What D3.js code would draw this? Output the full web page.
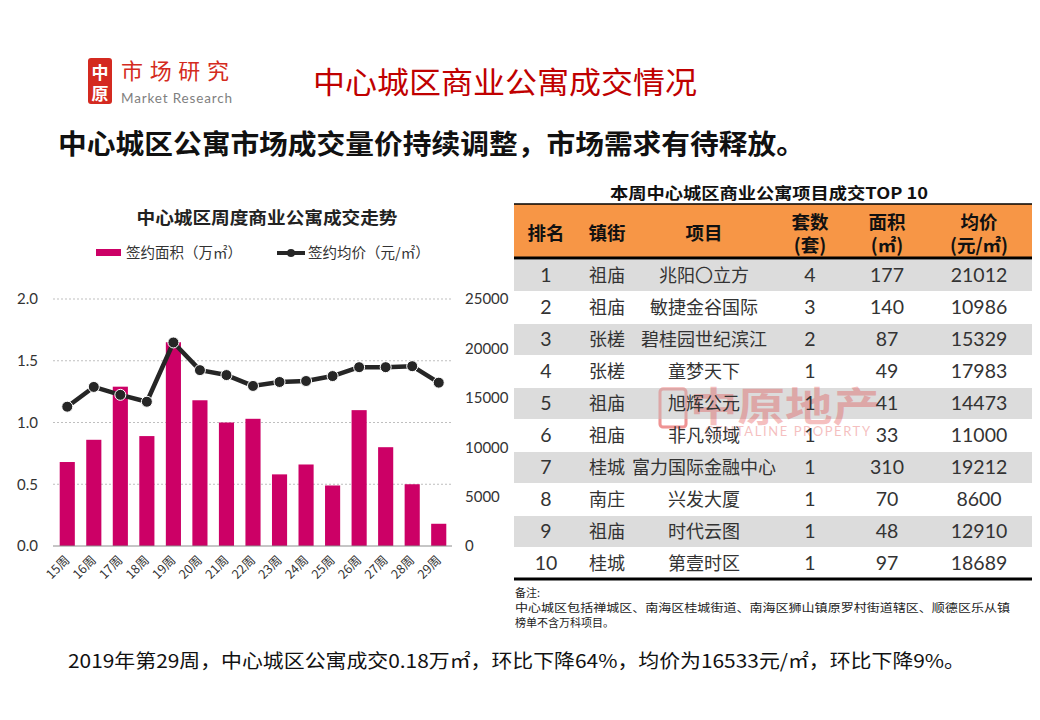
<!DOCTYPE html>
<html><head><meta charset="utf-8">
<script src="https://cdn.jsdelivr.net/npm/d3@7/dist/d3.min.js"></script>
<style>
html,body{margin:0;padding:0;background:#fff;}
svg{display:block;}
text{font-family:"Lato","Noto Sans CJK SC",sans-serif;}
.cjk{font-family:"Noto Sans CJK SC","Lato",sans-serif;}
</style></head>
<body>
<svg id="c" width="1040" height="720"></svg>
<script>
// ---- data ----
const weeks = ["15周","16周","17周","18周","19周","20周","21周","22周","23周","24周","25周","26周","27周","28周","29周"];
const areaValues = [0.68,0.86,1.29,0.89,1.65,1.18,1.00,1.03,0.58,0.66,0.49,1.10,0.80,0.50,0.18];
const priceValues = [14100,16100,15300,14600,20600,17800,17300,16200,16600,16700,17200,18100,18100,18200,16533];
const leftTicks = [0,0.5,1.0,1.5,2.0];
const rightTicks = [0,5000,10000,15000,20000,25000];

const tableHeaders = [["排名"],["镇街"],["项目"],["套数","(套)"],["面积","(㎡)"],["均价","(元/㎡)"]];
const ranks = ["1","2","3","4","5","6","7","8","9","10"];
const towns = ["祖庙","祖庙","张槎","张槎","祖庙","祖庙","桂城","南庄","祖庙","桂城"];
const projects = ["兆阳〇立方","敏捷金谷国际","碧桂园世纪滨江","童梦天下","旭辉公元","非凡领域","富力国际金融中心","兴发大厦","时代云图","第壹时区"];
const units = [4,3,2,1,1,1,1,1,1,1];
const areas = [177,140,87,49,41,33,310,70,48,97];
const prices = [21012,10986,15329,17983,14473,11000,19212,8600,12910,18689];

const svg = d3.select("#c");
const RED = "#C00000", BAR = "#CC0066", LINE = "#262626";

// ---- header ----
svg.append("rect").attr("x",88).attr("y",58).attr("width",24).attr("height",46).attr("rx",3).attr("fill","#D42A20");
svg.append("text").attr("class","cjk").attr("x",100).attr("y",79).attr("text-anchor","middle").attr("font-size",17).attr("font-weight",700).attr("fill","#fff").text("中");
svg.append("text").attr("class","cjk").attr("x",100).attr("y",100).attr("text-anchor","middle").attr("font-size",17).attr("font-weight",700).attr("fill","#fff").text("原");
svg.append("text").attr("class","cjk").attr("x",121).attr("y",79).attr("font-size",22).attr("fill","#D42A20").attr("textLength",108).attr("lengthAdjust","spacing").text("市场研究");
svg.append("text").attr("x",121).attr("y",103).attr("font-size",13.5).attr("fill","#7f7f7f").attr("textLength",111).text("Market Research");

svg.append("text").attr("class","cjk").attr("x",505).attr("y",93).attr("text-anchor","middle").attr("font-size",30).attr("fill",RED)
  .attr("textLength",384).attr("lengthAdjust","spacingAndGlyphs").text("中心城区商业公寓成交情况");
svg.append("text").attr("class","cjk").attr("x",58).attr("y",154).attr("font-size",27).attr("font-weight",700).attr("fill","#111")
  .attr("textLength",747).attr("lengthAdjust","spacingAndGlyphs").text("中心城区公寓市场成交量价持续调整，市场需求有待释放。");

// ---- chart ----
const x = d3.scaleBand().domain(weeks).range([54,452]).paddingInner(0.43).paddingOuter(0.215);
const yL = d3.scaleLinear().domain([0,2]).range([546,299]);
const yR = d3.scaleLinear().domain([0,25000]).range([546,299]);

svg.append("text").attr("class","cjk").attr("x",267).attr("y",224).attr("text-anchor","middle").attr("font-size",17).attr("font-weight",700).attr("fill","#222")
  .attr("textLength",261).attr("lengthAdjust","spacingAndGlyphs").text("中心城区周度商业公寓成交走势");

// legend
svg.append("rect").attr("x",96).attr("y",249).attr("width",25).attr("height",7).attr("fill",BAR);
svg.append("text").attr("class","cjk").attr("x",126).attr("y",258).attr("font-size",14.5).attr("fill","#333").text("签约面积（万㎡）");
svg.append("line").attr("x1",277).attr("x2",305).attr("y1",253).attr("y2",253).attr("stroke",LINE).attr("stroke-width",4);
svg.append("circle").attr("cx",291).attr("cy",253).attr("r",4).attr("fill",LINE);
svg.append("text").attr("class","cjk").attr("x",308).attr("y",258).attr("font-size",14.5).attr("fill","#333").text("签约均价（元/㎡）");

// grid
const grid = svg.append("g");
leftTicks.filter(d=>d>0).forEach(t=>{
  grid.append("line").attr("x1",53).attr("x2",452).attr("y1",yL(t)).attr("y2",yL(t)).attr("stroke","#bfbfbf").attr("stroke-dasharray","2,2").attr("stroke-width",1);
});

// axes
const axL = svg.append("g").attr("transform","translate(53,0)").call(d3.axisLeft(yL).tickValues(leftTicks).tickFormat(d3.format(".1f")).tickSize(0).tickPadding(15));
axL.select(".domain").remove();
axL.selectAll("text").attr("font-size",15).attr("fill","#333").attr("font-family","Lato");
const axR = svg.append("g").attr("transform","translate(452,0)").call(d3.axisRight(yR).tickValues(rightTicks).tickFormat(d3.format("d")).tickSize(0).tickPadding(13));
axR.select(".domain").remove();
axR.selectAll("text").attr("font-size",15).attr("fill","#333").attr("font-family","Lato");

// bars
svg.append("g").selectAll("rect").data(areaValues).join("rect")
  .attr("x",(d,i)=>x(weeks[i])).attr("width",x.bandwidth())
  .attr("y",d=>yL(d)).attr("height",d=>yL(0)-yL(d)).attr("fill",BAR);

// baseline + category labels
const axB = svg.append("g").attr("transform","translate(0,546)").call(d3.axisBottom(x).tickSize(0).tickPadding(0));
axB.select(".domain").attr("stroke","#8c8c8c").attr("d","M53,0H452");
axB.selectAll("text").attr("class","cjk").attr("font-size",12.5).attr("fill","#333")
  .attr("text-anchor","end").attr("dy",0).attr("y",0)
  .attr("transform","translate(3,15) rotate(-45)");

// line
const line = d3.line().x((d,i)=>x(weeks[i])+x.bandwidth()/2).y(d=>yR(d));
svg.append("path").datum(priceValues).attr("d",line).attr("fill","none").attr("stroke",LINE).attr("stroke-width",4.5).attr("stroke-linejoin","round");
svg.append("g").selectAll("circle").data(priceValues).join("circle")
  .attr("cx",(d,i)=>x(weeks[i])+x.bandwidth()/2).attr("cy",d=>yR(d)).attr("r",5.5)
  .attr("fill",LINE).attr("stroke","#fff").attr("stroke-width",1);

// ---- table ----
svg.append("text").attr("class","cjk").attr("x",769).attr("y",199).attr("text-anchor","middle").attr("font-size",16).attr("font-weight",700).attr("fill","#111")
  .attr("textLength",318).attr("lengthAdjust","spacingAndGlyphs").text("本周中心城区商业公寓项目成交TOP 10");
const colX = [546,607,704,810,887,979];
const tx0 = 514, tx1 = 1032;
const rowY = d3.scaleBand().domain(ranks).range([259,579]).padding(0);

// faint watermark behind table
const cw = svg.append("g").attr("opacity",0.3);
cw.append("rect").attr("x",660).attr("y",389).attr("width",26).attr("height",38).attr("rx",3).attr("fill","none").attr("stroke","#E03030").attr("stroke-width",3);

svg.append("rect").attr("x",tx0).attr("y",204).attr("width",tx1-tx0).attr("height",55).attr("fill","#F79646");
svg.append("line").attr("x1",tx0).attr("x2",tx1).attr("y1",204).attr("y2",204).attr("stroke","#000").attr("stroke-width",1.5);
svg.append("line").attr("x1",tx0).attr("x2",tx1).attr("y1",258).attr("y2",258).attr("stroke","#000").attr("stroke-width",3);
tableHeaders.forEach((h,i)=>{
  if(h.length===1){
    svg.append("text").attr("class","cjk").attr("x",colX[i]).attr("y",240).attr("text-anchor","middle").attr("font-size",18.5).attr("font-weight",700).attr("fill","#111").text(h[0]);
  } else {
    svg.append("text").attr("class","cjk").attr("x",colX[i]).attr("y",229).attr("text-anchor","middle").attr("font-size",18.5).attr("font-weight",700).attr("fill","#111").text(h[0]);
    svg.append("text").attr("class","cjk").attr("x",colX[i]).attr("y",252).attr("text-anchor","middle").attr("font-size",18.5).attr("font-weight",700).attr("fill","#111").text(h[1]);
  }
});
ranks.forEach((r,i)=>{
  const y0 = rowY(r), h = rowY.bandwidth();
  if(i%2===0) svg.append("rect").attr("x",tx0).attr("y",y0+1).attr("width",tx1-tx0).attr("height",h-1).attr("fill","#DCDCDC");
});
// watermark text sits between row fills and cell text
const cwt = svg.append("g").attr("opacity",0.3);
cwt.append("rect").attr("x",660).attr("y",389).attr("width",26).attr("height",38).attr("rx",3).attr("fill","none").attr("stroke","#E03030").attr("stroke-width",3);
cwt.append("text").attr("class","cjk").attr("x",690).attr("y",421).attr("font-size",40).attr("font-weight",700).attr("fill","#E03030").attr("textLength",190).attr("lengthAdjust","spacingAndGlyphs").text("中原地产");
cwt.append("text").attr("x",705).attr("y",436).attr("font-size",13).attr("fill","#E03030").attr("textLength",165).text("CENTALINE PROPERTY");

ranks.forEach((r,i)=>{
  const y0 = rowY(r), h = rowY.bandwidth();
  const yc = y0 + h/2 + 7;
  const cells = [r, towns[i], projects[i], units[i], areas[i], prices[i]];
  cells.forEach((v,j)=>{
    const isCjk = (j===1||j===2);
    svg.append("text").attr("class",isCjk?"cjk":null).attr("x",colX[j]).attr("y",yc).attr("text-anchor","middle")
      .attr("font-size",isCjk?18:19.5).attr("fill","#333").text(v);
  });
});
svg.append("line").attr("x1",tx0).attr("x2",tx1).attr("y1",579).attr("y2",579).attr("stroke","#000").attr("stroke-width",3);

// footnote
svg.append("text").attr("class","cjk").attr("x",515).attr("y",597).attr("font-size",11).attr("fill","#222").text("备注:");
svg.append("text").attr("class","cjk").attr("x",515).attr("y",612).attr("font-size",11).attr("fill","#222").attr("textLength",495).attr("lengthAdjust","spacingAndGlyphs").text("中心城区包括禅城区、南海区桂城街道、南海区狮山镇原罗村街道辖区、顺德区乐从镇");
svg.append("text").attr("class","cjk").attr("x",515).attr("y",627).attr("font-size",11).attr("fill","#222").text("榜单不含万科项目。");

// bottom text
svg.append("text").attr("class","cjk").attr("x",68).attr("y",668).attr("font-size",19).attr("fill","#111")
  .attr("textLength",897).attr("lengthAdjust","spacingAndGlyphs").text("2019年第29周，中心城区公寓成交0.18万㎡，环比下降64%，均价为16533元/㎡，环比下降9%。");
</script>
</body></html>
